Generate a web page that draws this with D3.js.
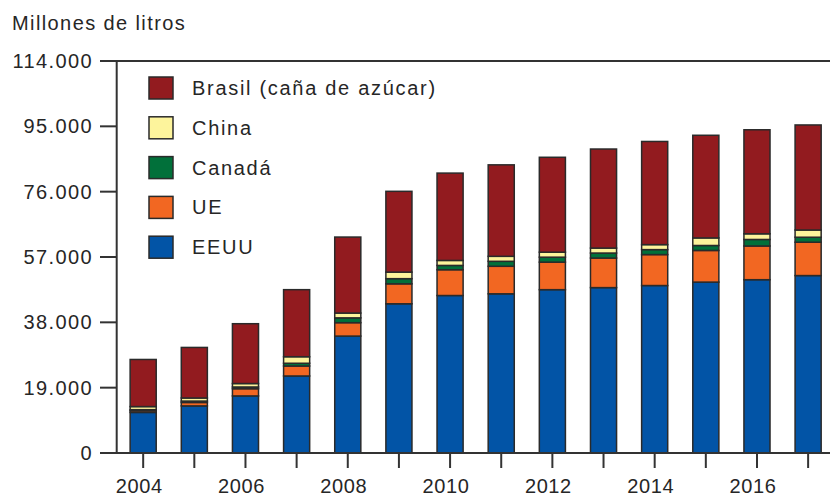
<!DOCTYPE html>
<html>
<head>
<meta charset="utf-8">
<script src="https://cdn.jsdelivr.net/npm/d3@7"></script>
<style>
  body { margin: 0; background: #fff; }
  text { font-family: "Liberation Sans", Arial, sans-serif; fill: #262626; }
</style>
</head>
<body>
<div id="chart"></div>
<script>
// millones de litros
var years   = [2004, 2005, 2006, 2007, 2008, 2009, 2010, 2011, 2012, 2013, 2014, 2015, 2016, 2017];
var eeuu    = [11800, 13700, 16600, 22400, 34000, 43400, 45800, 46300, 47500, 48100, 48700, 49700, 50400, 51600];
var ue      = [500, 1000, 2100, 2900, 3900, 5800, 7500, 8000, 8000, 8600, 9000, 9200, 9800, 9700];
var canada  = [300, 400, 500, 800, 1400, 1500, 1250, 1450, 1450, 1450, 1450, 1450, 1900, 1450];
var china   = [900, 900, 1000, 1900, 1400, 1900, 1450, 1450, 1450, 1450, 1450, 2200, 1650, 2100];
var brasil  = [13700, 14700, 17400, 19500, 22100, 23500, 25400, 26600, 27600, 28800, 30000, 29850, 30250, 30550];
var yTicks  = [0, 19000, 38000, 57000, 76000, 95000, 114000];
var xLabels = [2004, 2006, 2008, 2010, 2012, 2014, 2016];

var keys   = ["eeuu", "ue", "canada", "china", "brasil"];
var names  = {eeuu: "EEUU", ue: "UE", canada: "Canadá", china: "China", brasil: "Brasil (caña de azúcar)"};
var colors = {eeuu: "#0254a6", ue: "#f26722", canada: "#01703a", china: "#fdf49c", brasil: "#921b1f"};

var width = 830, height = 497;

var rows = years.map(function(yr, i) {
  return {year: yr, eeuu: eeuu[i], ue: ue[i], canada: canada[i], china: china[i], brasil: brasil[i]};
});

var svg = d3.select("#chart")
  .append("svg")
    .attr("width", width)
    .attr("height", height);

var x = d3.scaleBand()
  .domain(years)
  .range([117.6, 833.7])
  .paddingInner(0.49)
  .paddingOuter(0.245);

var y = d3.scaleLinear()
  .domain([0, 114000])
  .range([453, 61]);

var fmt = d3.formatLocale({decimal: ",", thousands: ".", grouping: [3], currency: ["", ""]}).format(",");

// bars
var series = d3.stack().keys(keys)(rows);

svg.append("g")
  .selectAll("g")
  .data(series)
  .enter().append("g")
    .attr("fill", function(d) { return colors[d.key]; })
  .selectAll("rect")
  .data(function(d) { return d; })
  .enter().append("rect")
    .attr("x", function(d) { return x(d.data.year); })
    .attr("y", function(d) { return y(d[1]); })
    .attr("width", x.bandwidth())
    .attr("height", function(d) { return y(d[0]) - y(d[1]); })
    .attr("stroke", "#2a2a2a")
    .attr("stroke-width", 1.5);

// axes
var axisCol = "#333";
svg.append("line")
  .attr("x1", 100).attr("x2", width)
  .attr("y1", y(0)).attr("y2", y(0))
  .attr("stroke", axisCol).attr("stroke-width", 2);
svg.append("line")
  .attr("x1", 100).attr("x2", width)
  .attr("y1", y(114000)).attr("y2", y(114000))
  .attr("stroke", axisCol).attr("stroke-width", 2);
svg.append("line")
  .attr("x1", 116.7).attr("x2", 116.7)
  .attr("y1", y(114000)).attr("y2", y(0))
  .attr("stroke", axisCol).attr("stroke-width", 2);

var yAxis = svg.append("g");
yAxis.selectAll("line")
  .data(yTicks)
  .enter().append("line")
    .attr("x1", 100).attr("x2", 116.7)
    .attr("y1", function(d) { return y(d); })
    .attr("y2", function(d) { return y(d); })
    .attr("stroke", axisCol).attr("stroke-width", 2);
yAxis.selectAll("text")
  .data(yTicks)
  .enter().append("text")
    .attr("x", 93)
    .attr("y", function(d) { return y(d); })
    .attr("dy", "0.35em")
    .attr("text-anchor", "end")
    .style("font-size", "20px")
    .style("letter-spacing", "1.4px")
    .text(function(d) { return fmt(d); });

var xAxis = svg.append("g");
xAxis.selectAll("line")
  .data(years)
  .enter().append("line")
    .attr("x1", function(d) { return x(d) + x.bandwidth() / 2; })
    .attr("x2", function(d) { return x(d) + x.bandwidth() / 2; })
    .attr("y1", y(0)).attr("y2", y(0) + 15)
    .attr("stroke", axisCol).attr("stroke-width", 2);
xAxis.selectAll("text")
  .data(xLabels)
  .enter().append("text")
    .attr("x", function(d) { return x(d) + x.bandwidth() / 2 - 4; })
    .attr("y", 493)
    .attr("text-anchor", "middle")
    .style("font-size", "20px")
    .style("letter-spacing", "0.6px")
    .text(function(d) { return d; });

svg.append("text")
  .attr("x", 12)
  .attr("y", 30)
  .style("font-size", "20px")
  .style("letter-spacing", "1.4px")
  .text("Millones de litros");

// legend, top to bottom
var legendKeys = keys.slice().reverse();
var leg = svg.append("g")
  .selectAll("g")
  .data(legendKeys)
  .enter().append("g")
    .attr("transform", function(d, i) { return "translate(149," + (88 + i * 39.8) + ")"; });
leg.append("rect")
  .attr("x", 0).attr("y", -11)
  .attr("width", 24).attr("height", 22)
  .attr("fill", function(d) { return colors[d]; })
  .attr("stroke", "#2a2a2a")
  .attr("stroke-width", 1.5);
leg.append("text")
  .attr("x", 43)
  .attr("y", 0)
  .attr("dy", "0.35em")
  .style("font-size", "20px")
  .style("letter-spacing", "1.7px")
  .text(function(d) { return names[d]; });
</script>
</body>
</html>
